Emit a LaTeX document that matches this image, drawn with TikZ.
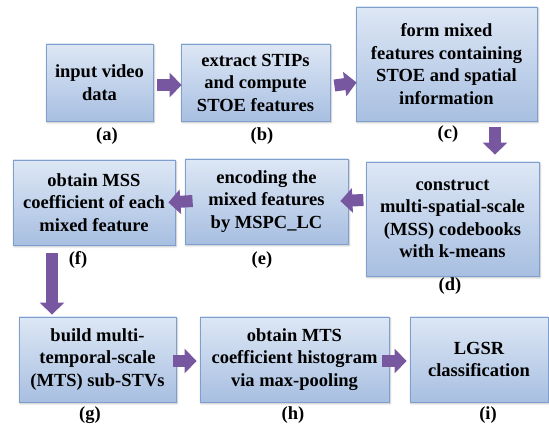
\documentclass[tikz,border=0pt]{standalone}
\usepackage{fontspec}
\setmainfont{Liberation Serif}
\newfontfamily\stagefont{Liberation Serif}
\usepackage{tikz}
\usetikzlibrary{
  arrows.meta,
  positioning,
  calc,
  shadows.blur
}
\definecolor{boxtop}{HTML}{DDE7F5}
\definecolor{boxbot}{HTML}{A8BFE1}
\definecolor{boxline}{HTML}{7E9ECE}
\definecolor{arrfill}{HTML}{7657A0}
\tikzset{
  stagebox/.style = {draw=boxline, line width=0.8pt, top color=boxtop, bottom color=boxbot,
                     align=center, inner sep=2pt, font=\stagefont\bfseries\fontsize{18.5}{22.5}\selectfont,
                     blur shadow={shadow xshift=1pt, shadow yshift=-1.5pt, shadow blur steps=4, shadow opacity=30}},
  tag/.style      = {inner sep=0pt, font=\stagefont\bfseries\fontsize{18.5}{22.5}\selectfont},
  flow/.style     = {draw=arrfill, line width=12pt, -{Triangle[length=12pt, width=24pt, fill=arrfill]}}
}
\begin{document}
\begin{tikzpicture}[x=1pt, y=-1pt]
  \useasboundingbox (0,0) rectangle (549,427);

  % Processing stages
  \node [stagebox, minimum width=107pt, minimum height=77pt]  (a) at ( 99.5,  82.5) {input video\\data};
  \node [stagebox, minimum width=149pt, minimum height=77pt]  (b) at (255.5,  82.5) {extract STIPs\\and compute\\STOE features};
  \node [stagebox, minimum width=181pt, minimum height=114pt] (c) at (446.5,  64.0) {form mixed\\features containing\\STOE and spatial\\information};
  \node [stagebox, minimum width=173pt, minimum height=114pt] (d) at (452.5, 219.0) {construct\\multi-spatial-scale\\(MSS) codebooks\\with k-means};
  \node [stagebox, minimum width=163pt, minimum height=85pt]  (e) at (266.5, 201.5) {encoding the\\mixed features\\by MSPC\_LC};
  \node [stagebox, minimum width=162pt, minimum height=85pt]  (f) at ( 94.0, 202.5) {obtain MSS\\coefficient of each\\mixed feature};
  \node [stagebox, minimum width=157pt, minimum height=85pt]  (g) at ( 97.5, 359.5) {build multi-\\temporal-scale\\(MTS) sub-STVs};
  \node [stagebox, minimum width=189pt, minimum height=85pt]  (h) at (294.5, 359.5) {obtain MTS\\coefficient histogram\\via max-pooling};
  \node [stagebox, minimum width=138pt, minimum height=85pt]  (i) at (479.0, 359.5) {LGSR\\classification};

  % Stage tags
  \node [tag] (ta) at (107, 136) {(a)};
  \node [tag] (tb) at (262, 136) {(b)};
  \node [tag] (tc) at (448, 134) {(c)};
  \node [tag] (td) at (450, 286) {(d)};
  \node [tag] (te) at (262, 260) {(e)};
  \node [tag] (tf) at ( 78, 260) {(f)};
  \node [tag] (tg) at ( 90, 415) {(g)};
  \node [tag] (th) at (293, 415) {(h)};
  \node [tag] (ti) at (488, 415) {(i)};

  % Flow between stages
  \draw [flow] ([xshift=4pt, yshift=-2.5pt]a.east) -- ([xshift=1pt, yshift=-2.5pt]b.west);
  \draw [flow] ([xshift=4pt, yshift=-3pt]b.east) -- ([xshift=1pt]b.east -| c.west);
  \draw [flow] ([xshift=48.5pt, yshift=-6pt]c.south) -- ([xshift=42.5pt, yshift=7pt]d.north);
  \draw [flow] ([xshift=15pt, yshift=1.5pt]e.east) -- ([xshift=-8pt, yshift=0.5pt]e.east);
  \draw [flow] ([xshift=8pt, yshift=0.5pt]e.west) -- ([xshift=-7pt]f.east);
  \draw [flow] ([xshift=-42pt, yshift=-8pt]f.south) -- ([xshift=-45.5pt, yshift=2pt]g.north);
  \draw [flow] ([xshift=-3pt, yshift=-1.5pt]g.east) -- ([xshift=-3pt, yshift=-1.5pt]h.west);
  \draw [flow] ([xshift=-7pt, yshift=-1.5pt]h.east) -- ([xshift=-3pt, yshift=-1.5pt]i.west);
\end{tikzpicture}
\end{document}
